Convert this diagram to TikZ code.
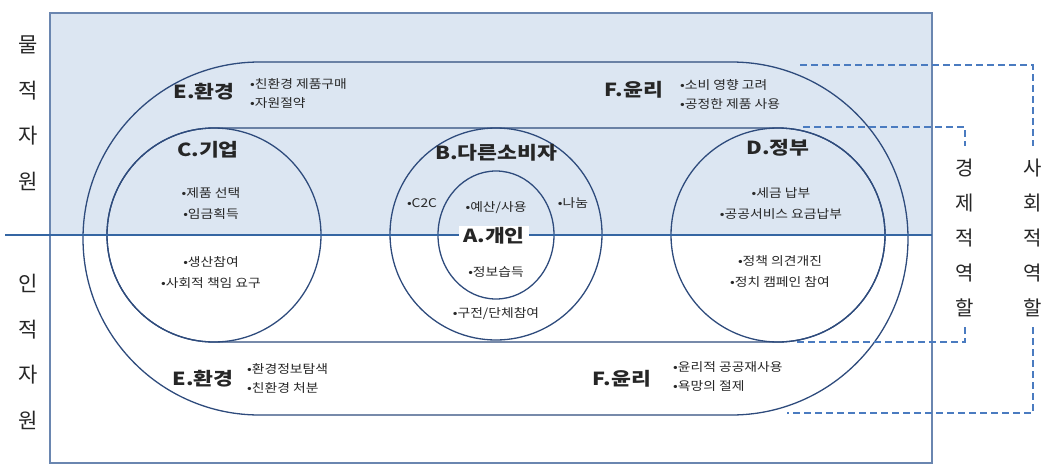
\documentclass[tikz,border=0pt]{standalone}
\usepackage{fontspec}
\newfontfamily\kr{Noto Sans CJK KR}
\newfontfamily\krw[FakeStretch=1.15]{Noto Sans CJK KR}
\newfontfamily\krl[FakeStretch=1.2]{Noto Sans CJK KR}
\definecolor{fillblue}{HTML}{DCE6F2}
\definecolor{linec}{HTML}{2E4B7C}
\definecolor{divc}{HTML}{3566A3}
\definecolor{rectc}{HTML}{6A86B0}
\definecolor{dashc}{HTML}{4A7BC0}
\tikzset{
  ring/.style={draw=linec, line width=1.3pt},
  lab/.style={font=\krl\bfseries\fontsize{18}{20}\selectfont, inner sep=1pt, text=black!85},
  bul/.style={font=\krw\fontsize{12}{19}\selectfont, inner sep=0pt, align=left, text=black!85},
  bulc/.style={font=\krw\fontsize{12}{21}\selectfont, inner sep=0pt, align=center, text=black!85},
  side/.style={font=\kr\fontsize{21}{45.5}\selectfont, inner sep=0pt, align=center, text=black!85},
  role/.style={font=\kr\fontsize{20}{35}\selectfont, inner sep=0pt, align=center, text=black!85},
  bracket/.style={draw=dashc, line width=1.3pt, dash pattern=on 7pt off 4pt}
}
\begin{document}
\begin{tikzpicture}[x=1pt,y=-1pt]
\useasboundingbox (0,0) rectangle (1049,466);
% upper shaded area and frame
\fill[fillblue] (50,13) rectangle (932,235);
\draw[rectc, line width=1.1pt] (50,13) rectangle (932,463);
% outer band (E / F)
\draw[ring, rounded corners=176.5pt] (83,62) rectangle (908,415);
% inner band (C / B / D)
\draw[ring, rounded corners=107pt] (107,128) rectangle (885,342);
\draw[ring] (214,235) circle[radius=107];
\draw[ring] (778,235) circle[radius=107];
% B and A circles
\draw[ring] (496,234) circle[radius=106];
\draw[ring] (496,235) ellipse[x radius=58, y radius=64];
% divider
\draw[divc, line width=1.8pt] (5,235) -- (932,235);
% side labels
\node[side] (mat) at (28,113) {물\\적\\자\\원};
\node[side] (hum) at (28,352) {인\\적\\자\\원};
\node[role] (eco) at (965,238) {경\\제\\적\\역\\할};
\node[role] (soc) at (1033,238) {사\\회\\적\\역\\할};
% brackets
\coordinate (s1) at (800,65);
\coordinate (s2) at (1033,65);
\coordinate (s3) at (1033,413);
\coordinate (s4) at (787,413);
\draw[bracket] (s1) -- (s2) -- ([yshift=13pt]soc.north);
\draw[bracket] ([yshift=-10pt]soc.south) -- (s3) -- (s4);
\coordinate (e1) at (803,127);
\coordinate (e2) at (965,127);
\coordinate (e3) at (965,342);
\coordinate (e4) at (797,342);
\draw[bracket] (e1) -- (e2) -- ([yshift=13pt]eco.north);
\draw[bracket] ([yshift=-10pt]eco.south) -- (e3) -- (e4);
% texts
\node[lab] (E1) at (204,92) {E.환경};
\node[bul, anchor=west] (E1b) at (250,93) {•친환경 제품구매\\•자원절약};
\node[lab] (F1) at (634,90) {F.윤리};
\node[bul, anchor=west] (F1b) at (680,94) {•소비 영향 고려\\•공정한 제품 사용};
\node[lab] (C) at (208,150) {C.기업};
\node[bulc] (Cb) at (211,204) {•제품 선택\\•임금획득};
\node[bulc] (Cc) at (211,272) {•생산참여\\•사회적 책임 요구};
\node[lab] (B) at (496,153) {B.다른소비자};
\node[bul] (B1) at (422,203) {•C2C};
\node[bul] (B2) at (573,203) {•나눔};
\node[bul] (A1) at (496,208) {•예산/사용};
\node[lab, fill=white, inner xsep=4pt, inner ysep=2pt] (A) at (494,236) {A.개인};
\node[bul] (A2) at (496,272) {•정보습득};
\node[bul] (B3) at (496,314) {•구전/단체참여};
\node[lab] (D) at (778,148) {D.정부};
\node[bulc] (Db) at (781,204) {•세금 납부\\•공공서비스 요금납부};
\node[bulc] (Dc) at (780,272) {•정책 의견개진\\•정치 캠페인 참여};
\node[lab] (E2) at (203,379) {E.환경};
\node[bul, anchor=west] (E2b) at (247,378) {•환경정보탐색\\•친환경 처분};
\node[lab] (F2) at (622,379) {F.윤리};
\node[bul, anchor=west] (F2b) at (673,377) {•윤리적 공공재사용\\•욕망의 절제};
\end{tikzpicture}
\end{document}
